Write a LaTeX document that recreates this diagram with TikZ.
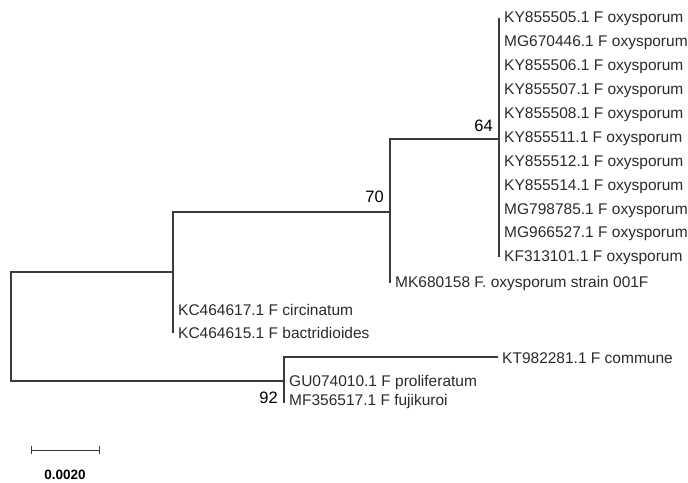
\documentclass[tikz,border=0pt]{standalone}
\usepackage{fontspec}
\setmainfont{Liberation Sans}
\definecolor{treeline}{HTML}{3A3A3A}
\definecolor{labeltext}{HTML}{2A2A2A}
\begin{document}
\begin{tikzpicture}[x=1pt,y=-1pt,
  branch/.style={draw=treeline,line width=1.1pt},
  leaf/.style={anchor=west,inner sep=0pt,text=labeltext,font=\fontsize{15.5}{16}\selectfont,xshift=5pt,yshift=-1pt},
  boot/.style={anchor=south east,inner sep=0pt,text=black,font=\fontsize{16.5}{18}\selectfont},
  scalelab/.style={inner sep=0pt,text=black,font=\bfseries\fontsize{13.5}{15}\selectfont}]
\useasboundingbox (0,0) rectangle (688,482);
% internal nodes
\coordinate (root) at (11,327);
\coordinate (n173) at (173,272);
\coordinate (n390) at (390,212);
\coordinate (n499) at (499,139);
\coordinate (n284) at (284,381);
% leaf tips
\foreach \i in {0,...,10} {\coordinate (t\i) at (499,{18+23.9*\i});}
\coordinate (t11) at (390,283);
\coordinate (t12) at (173,309);
\coordinate (t13) at (173,333);
\coordinate (t14) at (498,357);
\coordinate (t15) at (284,381);
\coordinate (t16) at (284,403);
% branches
\draw[branch] (root) |- (n173);
\draw[branch] (root) |- (n284);
\draw[branch] (n173) |- (n390);
\draw[branch] (n173) |- (t13);
\draw[branch] (n390) |- (n499);
\draw[branch] (n390) |- (t11);
\draw[branch] (n499 |- t0) -- (n499 |- t10);
\draw[branch] (n284) |- (t14);
\draw[branch] (n284 |- t14) -- (t16);
% leaf labels
\node[leaf] (l0) at (t0) {KY855505.1 F oxysporum};
\node[leaf] (l1) at (t1) {MG670446.1 F oxysporum};
\node[leaf] (l2) at (t2) {KY855506.1 F oxysporum};
\node[leaf] (l3) at (t3) {KY855507.1 F oxysporum};
\node[leaf] (l4) at (t4) {KY855508.1 F oxysporum};
\node[leaf] (l5) at (t5) {KY855511.1 F oxysporum};
\node[leaf] (l6) at (t6) {KY855512.1 F oxysporum};
\node[leaf] (l7) at (t7) {KY855514.1 F oxysporum};
\node[leaf] (l8) at (t8) {MG798785.1 F oxysporum};
\node[leaf] (l9) at (t9) {MG966527.1 F oxysporum};
\node[leaf] (l10) at (t10) {KF313101.1 F oxysporum};
\node[leaf,yshift=1pt] (l11) at (t11) {MK680158 F. oxysporum strain 001F};
\node[leaf] (l12) at (t12) {KC464617.1 F circinatum};
\node[leaf,yshift=1pt] (l13) at (t13) {KC464615.1 F bactridioides};
\node[leaf,xshift=-1pt] (l14) at (t14) {KT982281.1 F commune};
\node[leaf] (l15) at (t15) {GU074010.1 F proliferatum};
\node[leaf,yshift=3pt] (l16) at (t16) {MF356517.1 F fujikuroi};
% bootstrap values
\node[boot] (b64) at (493,132) {64};
\node[boot] (b70) at (384,203) {70};
\node[boot] (b92) at (278,404) {92};
% scale bar
\coordinate (sa) at (31,450);
\coordinate (sb) at (99,450);
\draw[branch,line width=1pt] (sa) -- (sb);
\draw[branch,line width=1pt] ([yshift=-4pt]sa) -- ([yshift=4pt]sa);
\draw[branch,line width=1pt] ([yshift=-4pt]sb) -- ([yshift=4pt]sb);
\node[scalelab] (scale) at (65,475) {0.0020};
\end{tikzpicture}
\end{document}
